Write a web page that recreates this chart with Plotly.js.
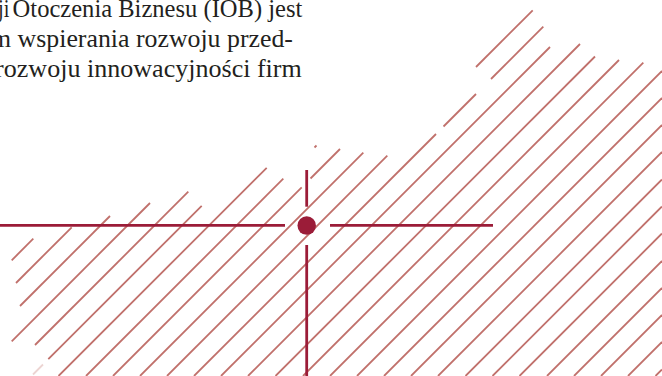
<!DOCTYPE html>
<html><head><meta charset="utf-8">
<script src="https://cdn.plot.ly/plotly-3.0.1.min.js"></script>
<style>html,body{margin:0;padding:0;background:#fff;overflow:hidden}#chart{width:662px;height:376px}</style>
</head><body><div id="chart"></div>
<script>
// Hatch lines: each line satisfies x + y = c (pixel space, y downward)
const hatchC = [272, 299, 326, 353, 380, 407.5, 434.5, 462, 489, 516, 543, 570, 597, 624, 651.5, 679, 706, 733,
                760, 787, 814, 841.5, 868.5, 895.5, 923, 950, 977, 1004, 1031.5];
// Visible pieces of the hatch lines: index into hatchC, lower-left x, upper-right x (null = runs to frame edge)
const segLine = [0, 1, 2, 3, 4, 5, 6, 7, 7, 8, 8, 9, 10, 10, 11, 11, 11, 12, 13, 14, 15, 16,
                 17, 18, 19, 20, 21, 22, 23, 24, 25, 26, 27, 28];
const segX0 = [11.7, 16, 20, 11.7, 35, 48.3, null, null, 314.5, null, 310.5, null, null, 476, null, 443.5, 491, null, null, null, null, null,
               null, null, null, null, null, null, null, null, null, null, null, null];
const segX1 = [33.3, 71.7, 110, 150, 188.3, 201.7, 266.7, 283.3, 316.5, 301.7, 340, 363.3, 387.3, 532.7, 436, 476, 543.3, 550, 580, 595, 619, 643.3,
               null, null, null, null, null, null, null, null, null, null, null, null];
// Faded fragment near the bottom-left
const faintLine = [5];
const faintX0 = [33];
const faintX1 = [43];

// Crosshair arms and centre dot
const armHx0 = [0, 330], armHx1 = [285, 493], armHy = [225.3, 225.3];
const armVy0 = [170, 245], armVy1 = [206.7, 376], armVx = [306.7, 306.7];
const dotX = [306.7], dotY = [225.6];

// Text (cropped paragraph)
const textLines = ["cji", "Otoczenia Biznesu (IOB) jest", "m wspierania rozwoju przed-", "rozwoju innowacyjności firm"];

const W = 662, H = 376;
function buildSegs(lines, x0s, x1s) {
  const xs = [], ys = [];
  for (let i = 0; i < lines.length; i++) {
    const c = hatchC[lines[i]];
    const a = x0s[i] === null ? Math.max(0, c - H) : x0s[i];
    const b = x1s[i] === null ? Math.min(W, c) : x1s[i];
    xs.push(a, b, null); ys.push(c - a, c - b, null);
  }
  return {xs, ys};
}
const hs = buildSegs(segLine, segX0, segX1);
const fsg = buildSegs(faintLine, faintX0, faintX1);
const hx = [], hy = [];
for (let i = 0; i < armHx0.length; i++) { hx.push(armHx0[i], armHx1[i], null); hy.push(armHy[i], armHy[i], null); }
for (let i = 0; i < armVy0.length; i++) { hx.push(armVx[i], armVx[i], null); hy.push(armVy0[i], armVy1[i], null); }

const hatchCol = '#c0706b', crossCol = '#9b1c38';
const data = [
  {x: hs.xs, y: hs.ys, mode: 'lines', line: {color: hatchCol, width: 1.8}, hoverinfo: 'skip'},
  {x: fsg.xs, y: fsg.ys, mode: 'lines', line: {color: hatchCol, width: 1.8}, opacity: 0.3, hoverinfo: 'skip'},
  {x: hx, y: hy, mode: 'lines', line: {color: crossCol, width: 2.8}, hoverinfo: 'skip'},
  {x: dotX, y: dotY, mode: 'markers', marker: {color: crossCol, size: 18.5, line: {width: 0}}, hoverinfo: 'skip'}
];

// text placement: left/right edge and baseline (pixels)
const textFit = [{L: -11, R: 9.5, B: 17}, {L: 12.5, R: 302.5, B: 17}, {L: -9, R: 293, B: 47}, {L: -5, R: 302.5, B: 77}];
const fontSpec = {family: 'Liberation Serif', size: 25, color: '#231f20'};
const annotations = textLines.map((t, i) => ({
  text: t, xref: 'x', yref: 'y', x: Math.max(20, (textFit[i].L + textFit[i].R) / 2), y: textFit[i].B - 6,
  showarrow: false, font: fontSpec, borderpad: 0, xanchor: 'center', yanchor: 'middle'
}));

const layout = {
  width: W, height: H, margin: {l: 0, r: 0, t: 0, b: 0, pad: 0},
  paper_bgcolor: '#ffffff', plot_bgcolor: '#ffffff', showlegend: false,
  xaxis: {range: [0, W], visible: false, fixedrange: true},
  yaxis: {range: [H, 0], visible: false, fixedrange: true},
  annotations: annotations
};
const gd = document.getElementById('chart');
Plotly.newPlot(gd, data, layout, {staticPlot: true, displayModeBar: false}).then(() => {
  textFit.forEach((f, i) => {
    const g = gd.querySelector('g.annotation[data-index="' + i + '"]');
    if (!g) return;
    const t = g.querySelector('text');
    if (!t) return;
    const bb = t.getBBox();
    const m = t.getCTM();
    const x0 = m.e + m.a * bb.x;
    const wpx = m.a * bb.width;
    const by = m.f + m.d * parseFloat(t.getAttribute('y') || 0);
    const sx = (f.R - f.L) / wpx;
    g.setAttribute('transform', 'translate(' + f.L + ',' + (f.B - by) + ') scale(' + sx + ',1) translate(' + (-x0) + ',0)');
  });
});
</script></body></html>
